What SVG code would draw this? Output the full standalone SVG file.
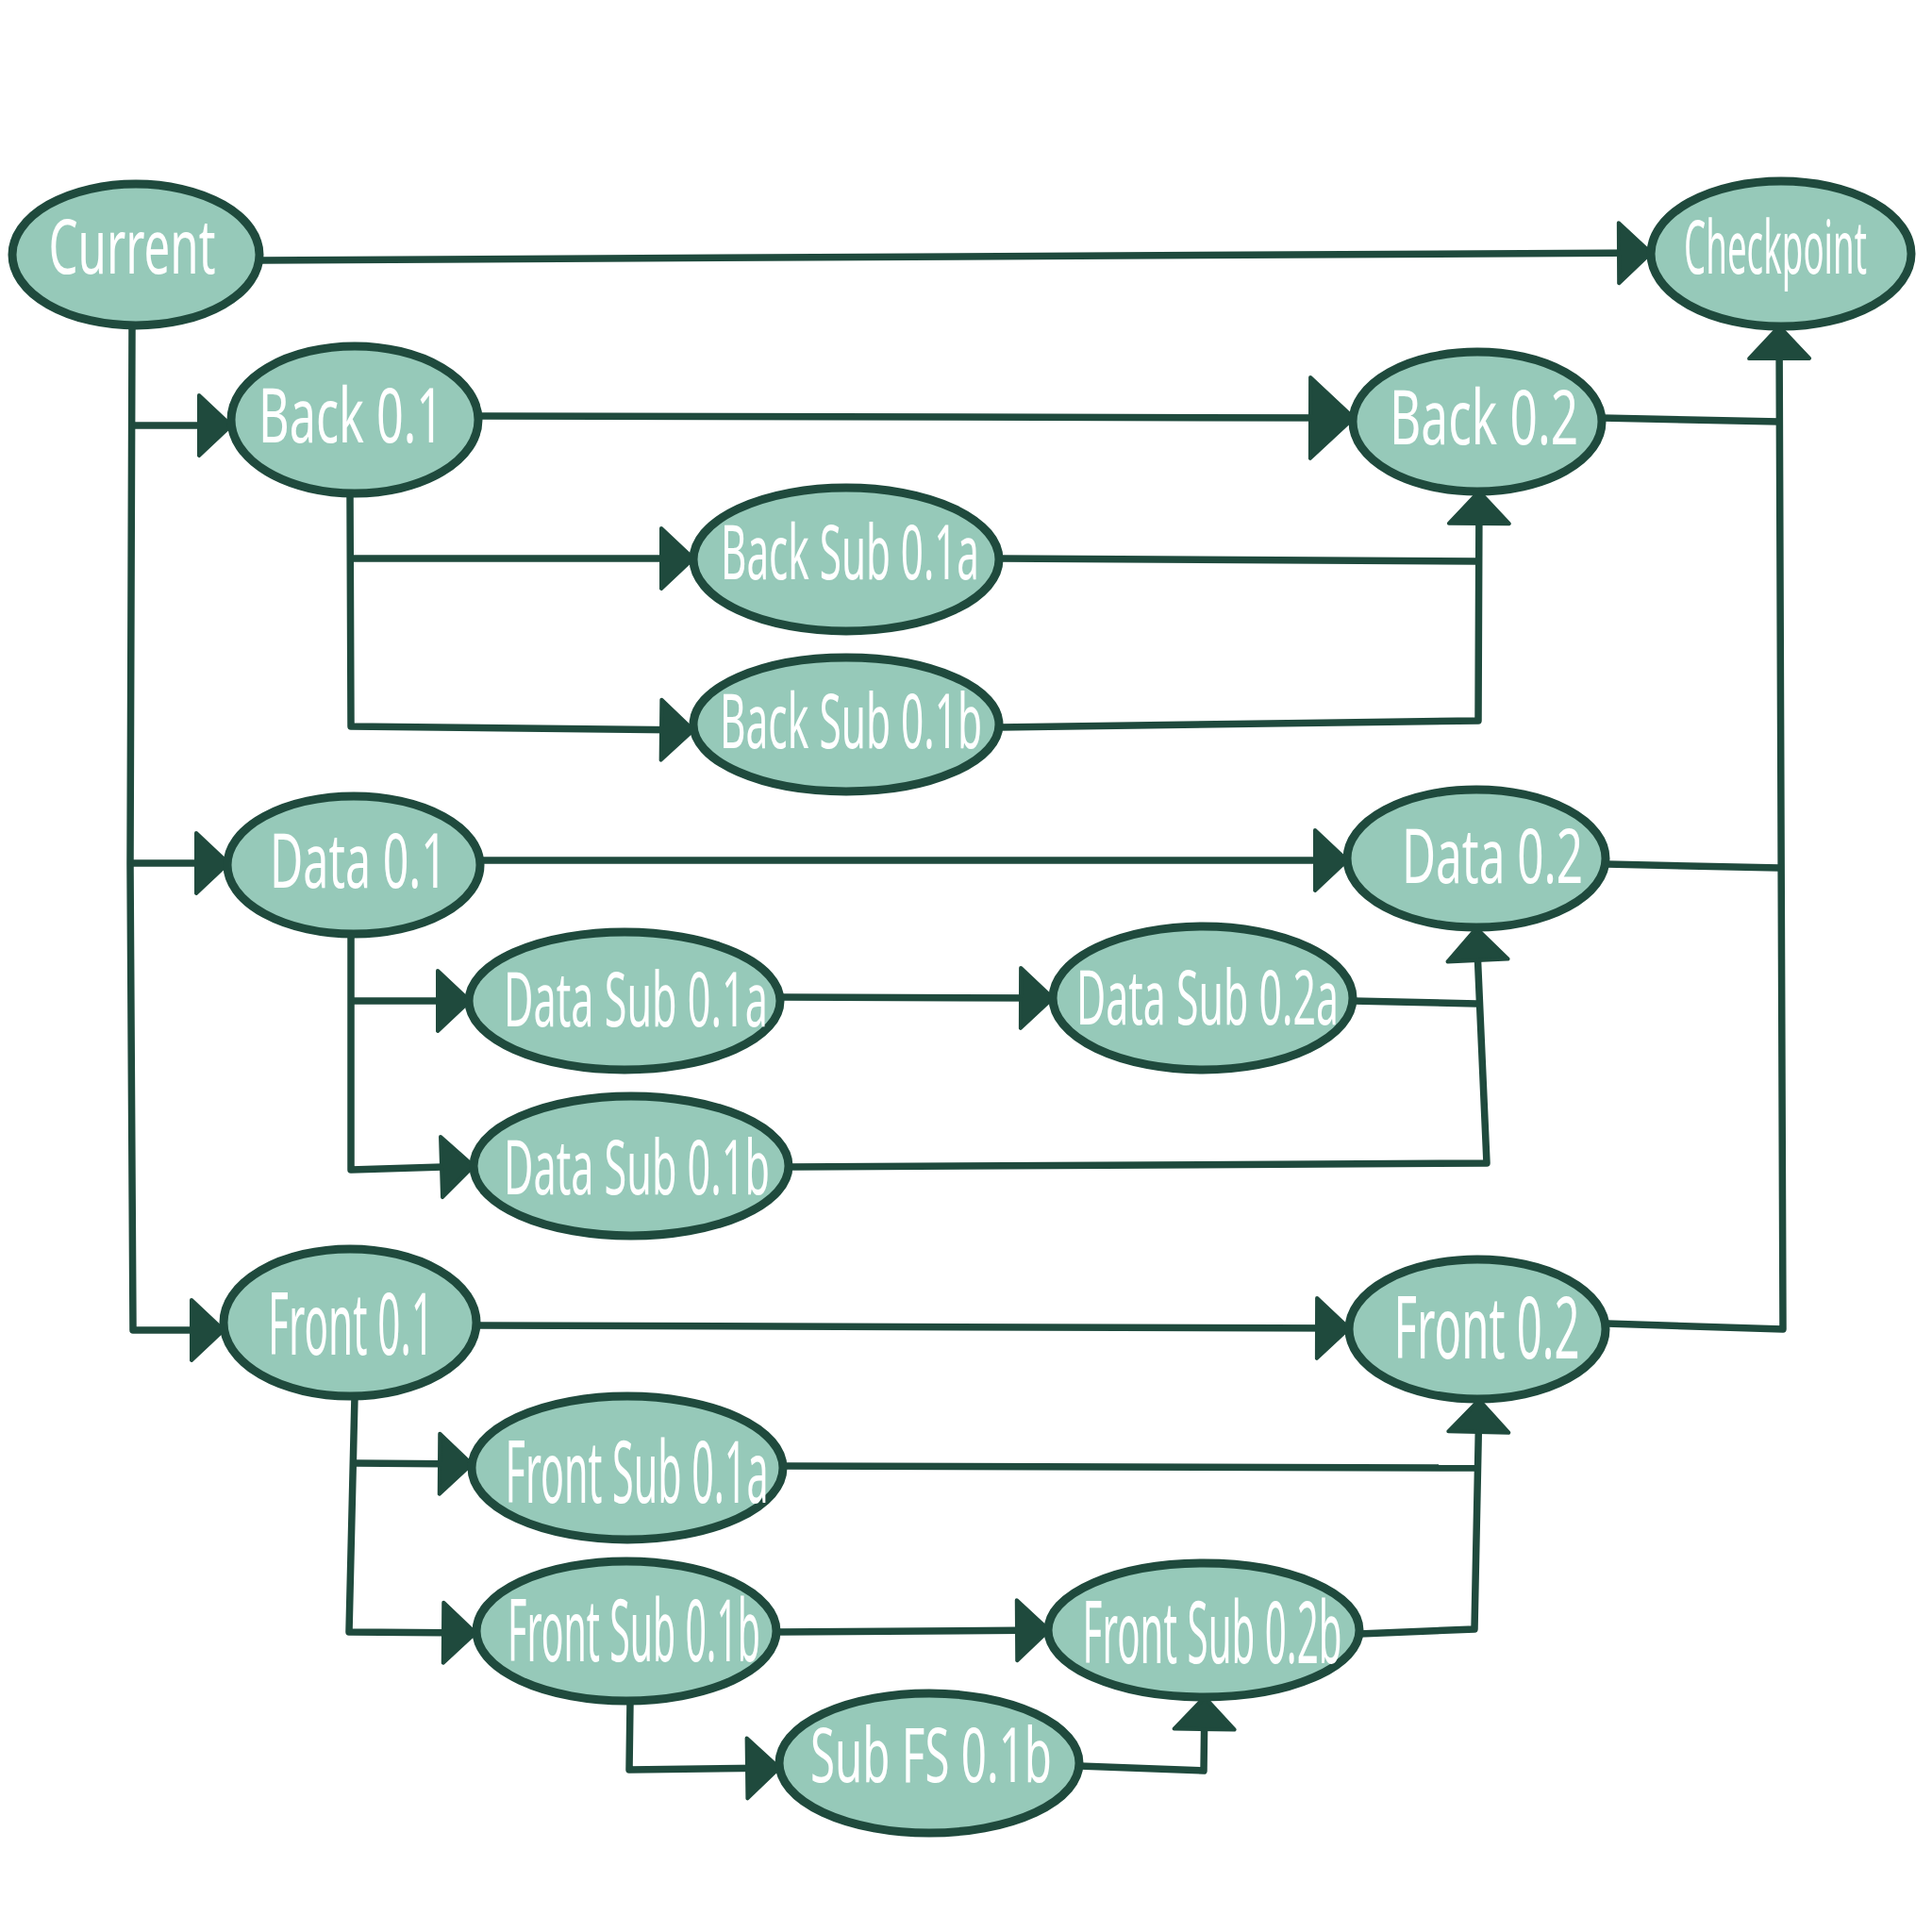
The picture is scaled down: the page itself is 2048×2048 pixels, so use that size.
<svg xmlns="http://www.w3.org/2000/svg" width="2048" height="2048" viewBox="0 0 2048 2048">
<style>
.node{fill:#96c9b9;stroke:#1f4a3d;stroke-width:9}
.lbl{fill:#ffffff;font-family:"Noto Sans","Open Sans",sans-serif;font-size:80px;text-anchor:middle}
.big{font-size:92px}
.edge{fill:none;stroke:#1f4a3d;stroke-width:7.5;stroke-linejoin:round;stroke-linecap:butt}
.a{marker-end:url(#arr)}
.ab{marker-end:url(#arrBig)}
</style>
<defs>
<marker id="arr" markerUnits="userSpaceOnUse" viewBox="0 0 40 70" refX="37" refY="35" markerWidth="40" markerHeight="70" orient="auto">
<path d="M3,3 L37,35 L3,67 Z" fill="#1f4a3d" stroke="#1f4a3d" stroke-width="4" stroke-linejoin="round"/>
</marker>
<marker id="arrBig" markerUnits="userSpaceOnUse" viewBox="0 0 52 92" refX="49" refY="46" markerWidth="52" markerHeight="92" orient="auto">
<path d="M3,3 L49,46 L3,89 Z" fill="#1f4a3d" stroke="#1f4a3d" stroke-width="4" stroke-linejoin="round"/>
</marker>
</defs>
<rect width="2048" height="2048" fill="#ffffff"/>
<g id="connectors">
<path class="edge a" d="M274,276 L1750,268"/>
<path class="edge a" d="M140,345 L138,916 L141,1410 L237,1410"/>
<path class="edge a" d="M140,451 L245,451"/>
<path class="edge a" d="M138,915 L242,915"/>
<path class="edge ab" d="M507,441 L1435,443"/>
<path class="edge a" d="M371,524 L372,770 L735,774"/>
<path class="edge a" d="M371,592 L735,592"/>
<path class="edge" d="M1059,592 L1567,595"/>
<path class="edge a" d="M1059,771 L1567,764 L1568,521"/>
<path class="edge" d="M1698,443 L1887,447"/>
<path class="edge a" d="M1703,1403 L1890,1409 L1886,346"/>
<path class="edge" d="M1703,916 L1887,920"/>
<path class="edge a" d="M509,912 L1428,912"/>
<path class="edge a" d="M372,990 L372,1240 L502,1236"/>
<path class="edge a" d="M372,1061 L498,1061"/>
<path class="edge a" d="M827,1057 L1116,1058"/>
<path class="edge" d="M1434,1061 L1566,1064"/>
<path class="edge a" d="M836,1237 L1576,1233 L1565,984"/>
<path class="edge a" d="M506,1405 L1430,1408"/>
<path class="edge a" d="M376,1480 L370,1730 L504,1731"/>
<path class="edge a" d="M375,1551 L500,1552"/>
<path class="edge" d="M830,1554 L1567,1556"/>
<path class="edge a" d="M823,1730 L1112,1728"/>
<path class="edge a" d="M1441,1732 L1563,1727 L1568,1484"/>
<path class="edge a" d="M668,1804 L667,1876 L826,1874"/>
<path class="edge a" d="M1144,1872 L1276,1877 L1277,1799"/>
</g>
<g id="n-current"><ellipse class="node" cx="144" cy="270" rx="131" ry="75"/><text class="lbl" x="140" y="290" textLength="177" lengthAdjust="spacingAndGlyphs">Current</text></g>
<g id="n-checkpoint"><ellipse class="node" cx="1888" cy="269" rx="138" ry="77"/><text class="lbl" style="font-size:60px" transform="translate(1882,290) scale(1,1.3)" x="0" y="0" textLength="194" lengthAdjust="spacingAndGlyphs">Checkpoint</text></g>
<g id="n-back01"><ellipse class="node" cx="376" cy="445" rx="131" ry="78"/><text class="lbl" x="372" y="469" textLength="196" lengthAdjust="spacingAndGlyphs">Back 0.1</text></g>
<g id="n-back02"><ellipse class="node" cx="1566" cy="447" rx="132" ry="74"/><text class="lbl" x="1573" y="471" textLength="200" lengthAdjust="spacingAndGlyphs">Back 0.2</text></g>
<g id="n-backsub01a"><ellipse class="node" cx="897" cy="593" rx="162" ry="76"/><text class="lbl" x="901" y="614" textLength="274" lengthAdjust="spacingAndGlyphs">Back Sub 0.1a</text></g>
<g id="n-backsub01b"><ellipse class="node" cx="897" cy="768" rx="162" ry="71"/><text class="lbl" x="902" y="793" textLength="278" lengthAdjust="spacingAndGlyphs">Back Sub 0.1b</text></g>
<g id="n-data01"><ellipse class="node" cx="375" cy="917" rx="134" ry="73"/><text class="lbl" x="380" y="941" textLength="188" lengthAdjust="spacingAndGlyphs">Data 0.1</text></g>
<g id="n-data02"><ellipse class="node" cx="1565" cy="910" rx="137" ry="73"/><text class="lbl" x="1582" y="936" textLength="192" lengthAdjust="spacingAndGlyphs">Data 0.2</text></g>
<g id="n-datasub01a"><ellipse class="node" cx="662" cy="1061" rx="165" ry="73"/><text class="lbl" x="674" y="1088" textLength="280" lengthAdjust="spacingAndGlyphs">Data Sub 0.1a</text></g>
<g id="n-datasub02a"><ellipse class="node" cx="1275" cy="1058" rx="159" ry="76"/><text class="lbl" x="1280" y="1086" textLength="278" lengthAdjust="spacingAndGlyphs">Data Sub 0.2a</text></g>
<g id="n-datasub01b"><ellipse class="node" cx="669" cy="1236" rx="167" ry="74"/><text class="lbl" x="675" y="1266" textLength="282" lengthAdjust="spacingAndGlyphs">Data Sub 0.1b</text></g>
<g id="n-front01"><ellipse class="node" cx="371" cy="1402" rx="134" ry="78"/><text class="lbl big" x="372" y="1436" textLength="176" lengthAdjust="spacingAndGlyphs">Front 0.1</text></g>
<g id="n-front02"><ellipse class="node" cx="1566" cy="1409" rx="136" ry="74"/><text class="lbl big" x="1576" y="1440" textLength="197" lengthAdjust="spacingAndGlyphs">Front 0.2</text></g>
<g id="n-frontsub01a"><ellipse class="node" cx="665" cy="1556" rx="165" ry="76"/><text class="lbl big" x="675" y="1593" textLength="279" lengthAdjust="spacingAndGlyphs">Front Sub 0.1a</text></g>
<g id="n-frontsub01b"><ellipse class="node" cx="664" cy="1729" rx="159" ry="74"/><text class="lbl big" x="672" y="1761" textLength="268" lengthAdjust="spacingAndGlyphs">Front Sub 0.1b</text></g>
<g id="n-frontsub02b"><ellipse class="node" cx="1276" cy="1728" rx="165" ry="71"/><text class="lbl big" x="1285" y="1763" textLength="275" lengthAdjust="spacingAndGlyphs">Front Sub 0.2b</text></g>
<g id="n-subfs01b"><ellipse class="node" cx="985" cy="1869" rx="159" ry="74"/><text class="lbl" x="987" y="1889" textLength="256" lengthAdjust="spacingAndGlyphs">Sub FS 0.1b</text></g>
</svg>
